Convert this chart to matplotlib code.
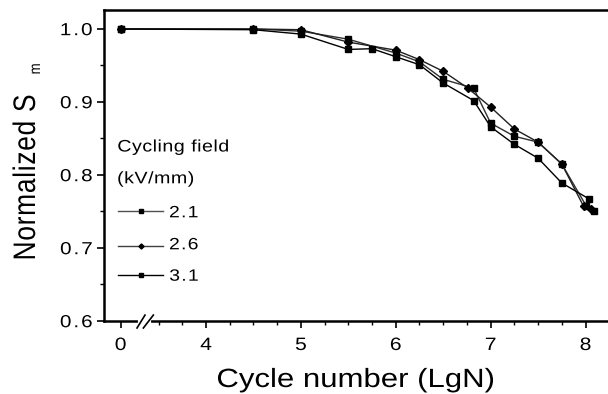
import matplotlib
matplotlib.use("Agg")
import matplotlib.pyplot as plt
from matplotlib.lines import Line2D
from matplotlib.path import Path
from matplotlib.patches import PathPatch
from matplotlib.textpath import TextPath
from matplotlib.font_manager import FontProperties, findfont
from matplotlib.ft2font import FT2Font
import matplotlib.transforms as mtrans
import numpy as np

try:
    from matplotlib.ft2font import LoadFlags
    NOHINT = LoadFlags.NO_HINTING
except ImportError:
    from matplotlib.ft2font import LOAD_NO_HINTING as NOHINT

plt.rcParams['font.family'] = ['Liberation Sans', 'DejaVu Sans']

# data (x = log10 of cycle number)
x_21 = [0, 4.5, 5.0, 5.5, 6.0, 6.25, 6.5, 6.82, 7.0, 7.25, 7.5, 7.75, 8.01, 8.09]
y_21 = [1.0, 1.0, 0.997, 0.986, 0.967, 0.955, 0.931, 0.919, 0.871, 0.853, 0.845, 0.815, 0.757, 0.751]
x_26 = [0, 4.5, 5.0, 5.5, 6.0, 6.25, 6.5, 6.76, 7.0, 7.25, 7.5, 7.75, 7.98, 8.06]
y_26 = [1.0, 1.0, 0.999, 0.982, 0.971, 0.958, 0.942, 0.919, 0.893, 0.863, 0.845, 0.815, 0.757, 0.754]
x_31 = [0, 4.5, 5.0, 5.5, 5.75, 6.0, 6.25, 6.5, 6.82, 7.0, 7.25, 7.5, 7.75, 8.04]
y_31 = [1.0, 0.999, 0.993, 0.972, 0.973, 0.962, 0.951, 0.926, 0.902, 0.866, 0.842, 0.823, 0.789, 0.767]
series_labels = ['2.1', '2.6', '3.1']
xtick_values = [0, 4, 5, 6, 7, 8]
ytick_values = [0.6, 0.7, 0.8, 0.9, 1.0]
ytick_labels = ['0.6', '0.7', '0.8', '0.9', '1.0']

BREAK_OFFSET = 3.1  # broken axis: 0 drawn just left of the break

W, H, DPI = 608, 394, 100
PX = DPI / 72.0
SX = 1.18  # horizontal stretch of the lettering in the reference

FP = FontProperties(family='Liberation Sans')
_font = FT2Font(findfont(FP))


def xpos(v):
    v = np.asarray(v, dtype=float)
    return np.where(v < 2, v + BREAK_OFFSET, v)


def _advance(ch, size):
    _font.set_size(size, 72)
    g = _font.load_char(ord(ch), flags=NOHINT)
    return g.linearHoriAdvance / 65536.0


def _build_path(s, size, track):
    parts = []
    pos = 0.0
    for ch in s:
        if ch != ' ':
            parts.append(TextPath((pos, 0), ch, size=size, prop=FP))
        pos += _advance(ch, size) + track
    return Path.make_compound_path(*parts)


def path_text(fig, s, x, y, size, ha='left', track=0.0, rot=False, color='black'):
    """Draw text as a filled path; x, y = baseline anchor in image pixels."""
    p = _build_path(s, size, track)
    ext = p.get_extents()
    if ha == 'center':
        x0 = -(ext.x0 + ext.x1) / 2
    elif ha == 'right':
        x0 = -ext.x1
    else:
        x0 = -ext.x0
    t = mtrans.Affine2D().translate(x0, 0).scale(PX)
    if rot:
        t = t.rotate_deg(90)
    t = t.scale(SX, 1).translate(x, H - y)
    patch = PathPatch(p, transform=t, facecolor=color, edgecolor='none', lw=0)
    fig.add_artist(patch)


fig = plt.figure(figsize=(W / DPI, H / DPI), dpi=DPI)
ax = fig.add_axes([104 / W, 1 - 321 / H, (614 - 104) / W, (321 - 10) / H])

styles = [dict(color='#303030', marker='s', ms=4.2),
          dict(color='#202020', marker='D', ms=3.6),
          dict(color='black', marker='s', ms=4.2)]
for xs, ys, st in zip([x_21, x_26, x_31], [y_21, y_26, y_31], styles):
    ax.plot(xpos(xs), ys, lw=1.0, color=st['color'], marker=st['marker'],
            ms=st['ms'], mfc='black', mec='black')

ax.set_xlim(2.925, 8.3)
ax.set_ylim(0.6, 1.026)

ax.set_xticks(xpos(xtick_values))
minor = [m for m in np.arange(3.5, 8.01, 0.25) if abs(m - round(m)) > 1e-6]
ax.set_xticks(minor, minor=True)
ax.set_yticks(ytick_values)
ax.set_yticks(np.arange(0.65, 1.0, 0.1), minor=True)

ax.tick_params(axis='both', which='major', direction='out', length=5, width=1.2,
               labelbottom=False, labelleft=False)
ax.tick_params(axis='both', which='minor', direction='out', length=2.6, width=1.0)
ax.tick_params(axis='x', which='both', top=False)
ax.tick_params(axis='y', which='both', right=False)
for s in ax.spines.values():
    s.set_linewidth(1.8)

# tick labels drawn at the axis' own tick positions
for v, lab in zip(xpos(xtick_values), [str(t) for t in xtick_values]):
    xd = ax.transData.transform((v, 0.6))[0]
    path_text(fig, lab, xd, 350, 12.9, ha='center')
for v, lab in zip(ytick_values, ytick_labels):
    yd = H - ax.transData.transform((3.0, v))[1]
    path_text(fig, lab, 91.7, yd + 6.2, 12.6, ha='right', track=1.2)

# axis labels
path_text(fig, 'Cycle number (LgN)', 355.5, 387, 19, ha='center')
path_text(fig, 'Normalized S', 35, 258.3, 19, ha='left', rot=True, track=0.5)
path_text(fig, 'm', 40, 73.5, 9.5, ha='left', rot=True)

# axis break marks
trans = ax.get_xaxis_transform()
ax.plot([3.30, 3.40], [0.0, 0.0], color='white', lw=3, transform=trans,
        clip_on=False, zorder=5)
for xa, xb in ((3.273, 3.357), (3.34, 3.445)):
    ax.plot([xa, xb], [-0.0225, 0.019], color='black', lw=1.2,
            transform=trans, clip_on=False, zorder=6)

# legend drawn as texts
path_text(fig, 'Cycling field', 118.3, 151.5, 12, track=0.3)
path_text(fig, '(kV/mm)', 118.3, 183.3, 12, track=0.3)
leg_line_y = [211, 245.7, 275]
leg_text_y = [217.3, 249.3, 280.7]
leg_colors = ['#505050', '#404040', 'black']
for ly, ty, lab, st, lc in zip(leg_line_y, leg_text_y, series_labels, styles, leg_colors):
    fy = 1 - ly / H
    fig.add_artist(Line2D([118 / W, 163 / W], [fy, fy], color=lc, lw=1.0))
    fig.add_artist(Line2D([141 / W], [fy], marker=st['marker'], ms=st['ms'] - 1.0,
                          color='black', lw=0))
    path_text(fig, lab, 170, ty, 11.8, track=0.8)

fig.savefig('out.png', dpi=DPI)
